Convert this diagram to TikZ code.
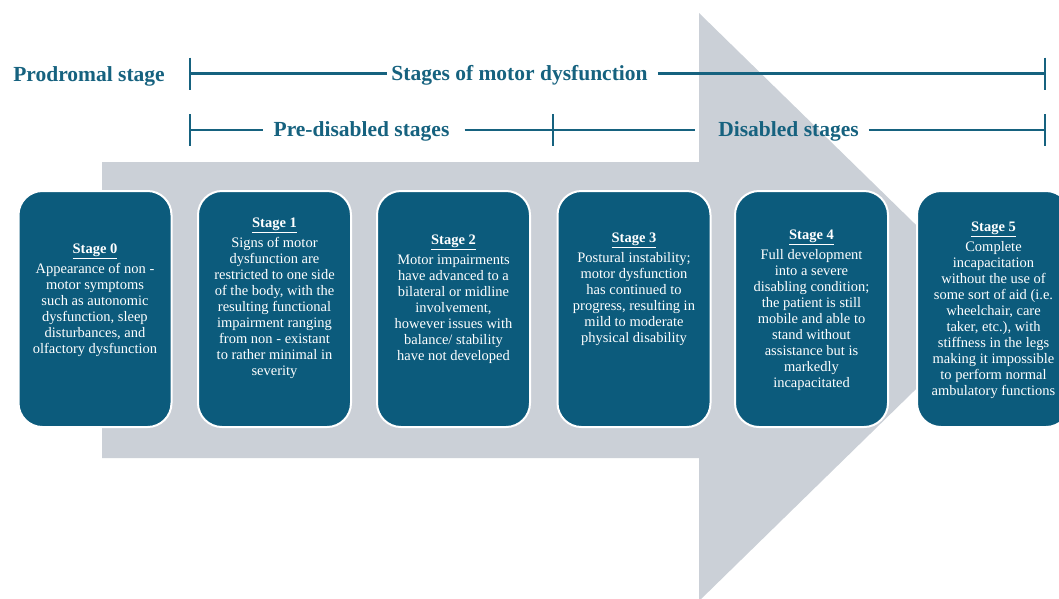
\documentclass[tikz,border=0pt]{standalone}
\usepackage{fontspec}
\setmainfont{Liberation Serif}
\definecolor{stageblue}{HTML}{0C5B7C}
\definecolor{headblue}{HTML}{16627F}
\definecolor{arrowgray}{HTML}{CBD0D7}
\tikzset{
  headtxt/.style={text=headblue, font=\bfseries\fontsize{21.5}{24}\selectfont, inner sep=0pt},
  rule/.style={draw=headblue, line width=2.4pt},
  stagebox/.style={rectangle, rounded corners=24pt, fill=stageblue, draw=white,
    line width=2pt, minimum width=153pt, minimum height=236pt, inner sep=0pt},
  stagetxt/.style={text=white, align=center, font=\fontsize{14.5}{16}\selectfont, inner sep=0pt},
}
\newcommand{\stagehead}[1]{\underline{\textbf{Stage #1}}\\[4pt]}
\begin{document}
\begin{tikzpicture}[x=1pt,y=-1pt]
\useasboundingbox (0,0) rectangle (1059,598);
\clip (0,0) rectangle (1059,598);
\fill[white] (0,0) rectangle (1059,598);

% big grey arrow behind the stages
\fill[arrowgray] (102,162) -- (699,162) -- (699,13) -- (1000,307)
  -- (699,601) -- (699,458) -- (102,458) -- cycle;

% header row 1
\node[headtxt] (pro) at (89,76) {Prodromal stage};
\node[headtxt] (mot) at (519.5,75) {Stages of motor dysfunction};
\coordinate (r1a) at (190,73.5);
\coordinate (r1b) at (1045,73.5);
\draw[rule] (r1a) -- ([xshift=-4pt]r1a -| mot.west);
\draw[rule] ([xshift=10pt]r1a -| mot.east) -- (r1b);
\draw[rule] ([yshift=16pt]r1a) -- ([yshift=-16pt]r1a);
\draw[rule] ([yshift=16pt]r1b) -- ([yshift=-16pt]r1b);

% header row 2
\node[headtxt] (pre) at (361.5,131) {Pre-disabled stages};
\node[headtxt] (dis) at (788.5,131) {Disabled stages};
\coordinate (r2a) at (190,130);
\coordinate (r2m) at (553,130);
\coordinate (r2b) at (1045,130);
\draw[rule] (r2a) -- ([xshift=-10pt]r2a -| pre.west);
\draw[rule] ([xshift=15pt]r2a -| pre.east) -- (r2m) -- ([xshift=-23pt]r2a -| dis.west);
\draw[rule] ([xshift=10pt]r2a -| dis.east) -- (r2b);
\draw[rule] ([yshift=16pt]r2a) -- ([yshift=-16pt]r2a);
\draw[rule] ([yshift=16pt]r2m) -- ([yshift=-16pt]r2m);
\draw[rule] ([yshift=16pt]r2b) -- ([yshift=-16pt]r2b);

% stage boxes
\node[stagebox] (s0) at (95,309) {};
\node[stagebox] (s1) at (274.5,309) {};
\node[stagebox] (s2) at (453.5,309) {};
\node[stagebox] (s3) at (634,309) {};
\node[stagebox] (s4) at (811.5,309) {};
\node[stagebox] (s5) at (993.5,309) {};

\node[stagetxt] (t0) at (95,300) {\stagehead{0}Appearance of non -\\motor symptoms\\such as autonomic\\dysfunction, sleep\\disturbances, and\\olfactory dysfunction};
\node[stagetxt] (t1) at (274.5,298) {\stagehead{1}Signs of motor\\dysfunction are\\restricted to one side\\of the body, with the\\resulting functional\\impairment ranging\\from non - existant\\to rather minimal in\\severity};
\node[stagetxt] (t2) at (453.5,299) {\stagehead{2}Motor impairments\\have advanced to a\\bilateral or midline\\involvement,\\however issues with\\balance/ stability\\have not developed};
\node[stagetxt] (t3) at (634,289) {\stagehead{3}Postural instability;\\motor dysfunction\\has continued to\\progress, resulting in\\mild to moderate\\physical disability};
\node[stagetxt] (t4) at (811.5,310) {\stagehead{4}Full development\\into a severe\\disabling condition;\\the patient is still\\mobile and able to\\stand without\\assistance but is\\markedly\\incapacitated};
\node[stagetxt] (t5) at (993.5,310) {\stagehead{5}Complete\\incapacitation\\without the use of\\some sort of aid (i.e.\\wheelchair, care\\taker, etc.), with\\stiffness in the legs\\making it impossible\\to perform normal\\ambulatory functions};
\end{tikzpicture}
\end{document}
